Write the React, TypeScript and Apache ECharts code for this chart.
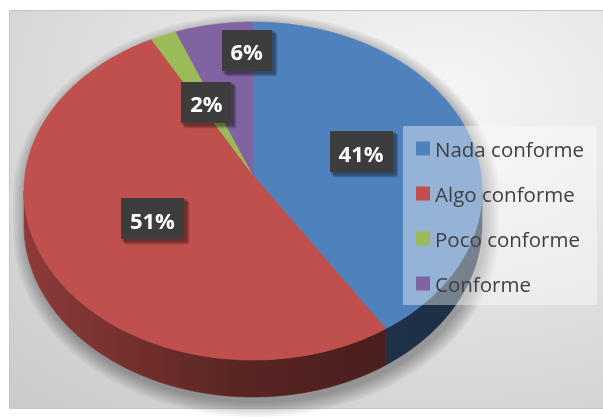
import React, { useEffect, useRef } from "react";
import * as echarts from "echarts";

// ---- data ----
const categories = ["Nada conforme", "Algo conforme", "Poco conforme", "Conforme"];
const values = [41, 51, 2, 6];
const colors = ["#4f81bd", "#c0504d", "#9bbb59", "#8064a2"];

// ---- layout (perspective pie geometry) ----
const CX = 253;
const CY = 175;
const RX = 228;
const SY = 167.5;
const K = 0.0946;
const DEPTH = 33.5;
const LABEL_R = 0.5;
const LABEL_NUDGE: number[][] = [[0, 0], [0, 0], [0, 0], [14, -46]];
const LABEL_FONT = 'bold 22px "Open Sans", sans-serif';
const LABEL_PAD_X = 9;
const LABEL_H = 41;

const total = values.reduce((a, b) => a + b, 0);
const starts: number[] = [];
const ends: number[] = [];
{
  let acc = 0;
  values.forEach((v) => {
    starts.push((acc / total) * Math.PI * 2);
    acc += v;
    ends.push((acc / total) * Math.PI * 2);
  });
}

const SIDE_START = Math.acos(-K);
const SIDE_END = Math.PI * 2 - SIDE_START;

function project(theta: number, f: number) {
  const u = Math.sin(theta) * f;
  const v = -Math.cos(theta) * f;
  const w = 1 - K * v;
  return [CX + (RX * u) / w, CY + (SY * v) / w, w];
}

function shade(hex: string, f: number) {
  const n = parseInt(hex.slice(1), 16);
  const r = Math.round(((n >> 16) & 255) * f);
  const g = Math.round(((n >> 8) & 255) * f);
  const b = Math.round((n & 255) * f);
  return `rgb(${r},${g},${b})`;
}

function sideGradient(color: string) {
  return {
    type: "linear",
    x: CX - RX,
    y: 0,
    x2: CX + RX,
    y2: 0,
    global: true,
    colorStops: [
      { offset: 0, color: shade(color, 0.74) },
      { offset: 0.45, color: shade(color, 0.47) },
      { offset: 0.75, color: shade(color, 0.39) },
      { offset: 1, color: shade(color, 0.36) },
    ],
  };
}

let measureCtx: CanvasRenderingContext2D | null = null;
function textWidth(t: string) {
  if (!measureCtx) measureCtx = document.createElement("canvas").getContext("2d");
  if (!measureCtx) return t.length * 13;
  measureCtx.font = LABEL_FONT;
  return measureCtx.measureText(t).width;
}

function silhouette(grow: number, dx: number, dy: number) {
  const pts: number[][] = [];
  const ccx = CX;
  const ccy = CY + 20;
  for (let j = 0; j <= 180; j++) {
    const t = (j / 180) * Math.PI * 2;
    const p = project(t, 1);
    let x = p[0];
    let y = -Math.cos(t) >= K ? p[1] + DEPTH / p[2] : p[1];
    const ddx = x - ccx;
    const ddy = y - ccy;
    const len = Math.sqrt(ddx * ddx + ddy * ddy) || 1;
    x += (ddx / len) * grow + dx;
    y += (ddy / len) * grow + dy;
    pts.push([x, y]);
  }
  return pts;
}

function makeRender(i: number) {
  return (_params: any, _api: any) => {
    const children: any[] = [];
    const a0 = starts[i];
    const a1 = ends[i];

    if (i === 0) {
      // soft shadow halo
      for (let g = 14; g >= 0; g -= 2) {
        children.push({
          type: "polygon",
          z2: -6,
          shape: { points: silhouette(g, 3, 6) },
          style: { fill: "rgba(0,0,0,0.045)" },
        });
      }
    }

    // side wall
    const s0 = Math.max(a0, SIDE_START);
    const s1 = Math.min(a1, SIDE_END);
    if (s1 > s0) {
      const n = Math.max(2, Math.ceil((s1 - s0) / (Math.PI / 180)));
      const topPts: number[][] = [];
      const botPts: number[][] = [];
      for (let j = 0; j <= n; j++) {
        const t = s0 + ((s1 - s0) * j) / n;
        const p = project(t, 1);
        topPts.push([p[0], p[1]]);
        botPts.push([p[0], p[1] + DEPTH / p[2]]);
      }
      const grad = sideGradient(colors[i]);
      children.push({
        type: "polygon",
        z2: 0,
        shape: { points: topPts.concat(botPts.reverse()) },
        style: { fill: grad, stroke: grad, lineWidth: 0.6 },
      });
    }

    // top face
    const n = Math.max(2, Math.ceil((a1 - a0) / (Math.PI / 180)));
    const pts: number[][] = [[CX, CY]];
    for (let j = 0; j <= n; j++) {
      const t = a0 + ((a1 - a0) * j) / n;
      const p = project(t, 1);
      pts.push([p[0], p[1]]);
    }
    children.push({
      type: "polygon",
      z2: 10,
      shape: { points: pts },
      style: { fill: colors[i], stroke: colors[i], lineWidth: 0.6 },
    });

    // label
    const mid = (a0 + a1) / 2;
    const lp = project(mid, LABEL_R);
    const pct = Math.round((values[i] / total) * 100) + "%";
    const lx = lp[0] + LABEL_NUDGE[i][0];
    const ly = lp[1] + LABEL_NUDGE[i][1];
    const bw = Math.round(textWidth(pct) + LABEL_PAD_X * 2);
    const bx = Math.round(lx - bw / 2);
    const by = Math.round(ly - LABEL_H / 2);
    // box shadow layers
    for (let s = 0; s < 4; s++) {
      children.push({
        type: "rect",
        z2: 18,
        shape: { x: bx + 1 + s * 0.8, y: by + 1 + s * 0.8, width: bw + 2, height: LABEL_H + 2, r: 2 },
        style: { fill: "rgba(0,0,0,0.12)" },
      });
    }
    children.push({
      type: "rect",
      z2: 19,
      shape: { x: bx, y: by, width: bw, height: LABEL_H },
      style: { fill: "#3d3d3d" },
    });
    children.push({
      type: "text",
      z2: 20,
      style: {
        text: pct,
        x: lx,
        y: ly + 1,
        align: "center",
        verticalAlign: "middle",
        fill: "#ffffff",
        font: LABEL_FONT,
      },
    });

    return { type: "group", children };
  };
}

export default function App() {
  const ref = useRef<HTMLDivElement>(null);
  useEffect(() => {
    if (!ref.current) return;
    const chart = echarts.init(ref.current, undefined, { renderer: "svg" });
    chart.setOption({
      animation: false,
      graphic: [
        {
          type: "rect",
          z: -10,
          shape: { x: 9.5, y: 10.5, width: 600, height: 398 },
          style: {
            fill: {
              type: "radial",
              x: 0.72,
              y: 0.22,
              r: 1.2,
              colorStops: [
                { offset: 0, color: "#f6f6f6" },
                { offset: 1, color: "#c4c4c4" },
              ],
            },
            stroke: "#c6c6c6",
            lineWidth: 1,
          },
        },
      ],
      legend: {
        orient: "vertical",
        left: 403,
        top: 126,
        padding: [12, 13, 11, 13],
        itemWidth: 14,
        itemHeight: 14,
        itemGap: 24,
        icon: "rect",
        selectedMode: false,
        backgroundColor: "rgba(255,255,255,0.4)",
        textStyle: { fontFamily: "Open Sans", fontSize: 20.5, color: "#404040" },
        data: categories.map((c, i) => ({ name: c, itemStyle: { color: colors[i] } })),
      },
      series: categories.map((c, i) => ({
        type: "custom",
        name: c,
        coordinateSystem: "none",
        silent: true,
        itemStyle: { color: colors[i] },
        data: [values[i]],
        renderItem: makeRender(i),
      })),
    });
    return () => chart.dispose();
  }, []);
  return (
    <div
      ref={ref}
      style={{ position: "fixed", left: 0, top: 0, width: 603, height: 419 }}
    />
  );
}
